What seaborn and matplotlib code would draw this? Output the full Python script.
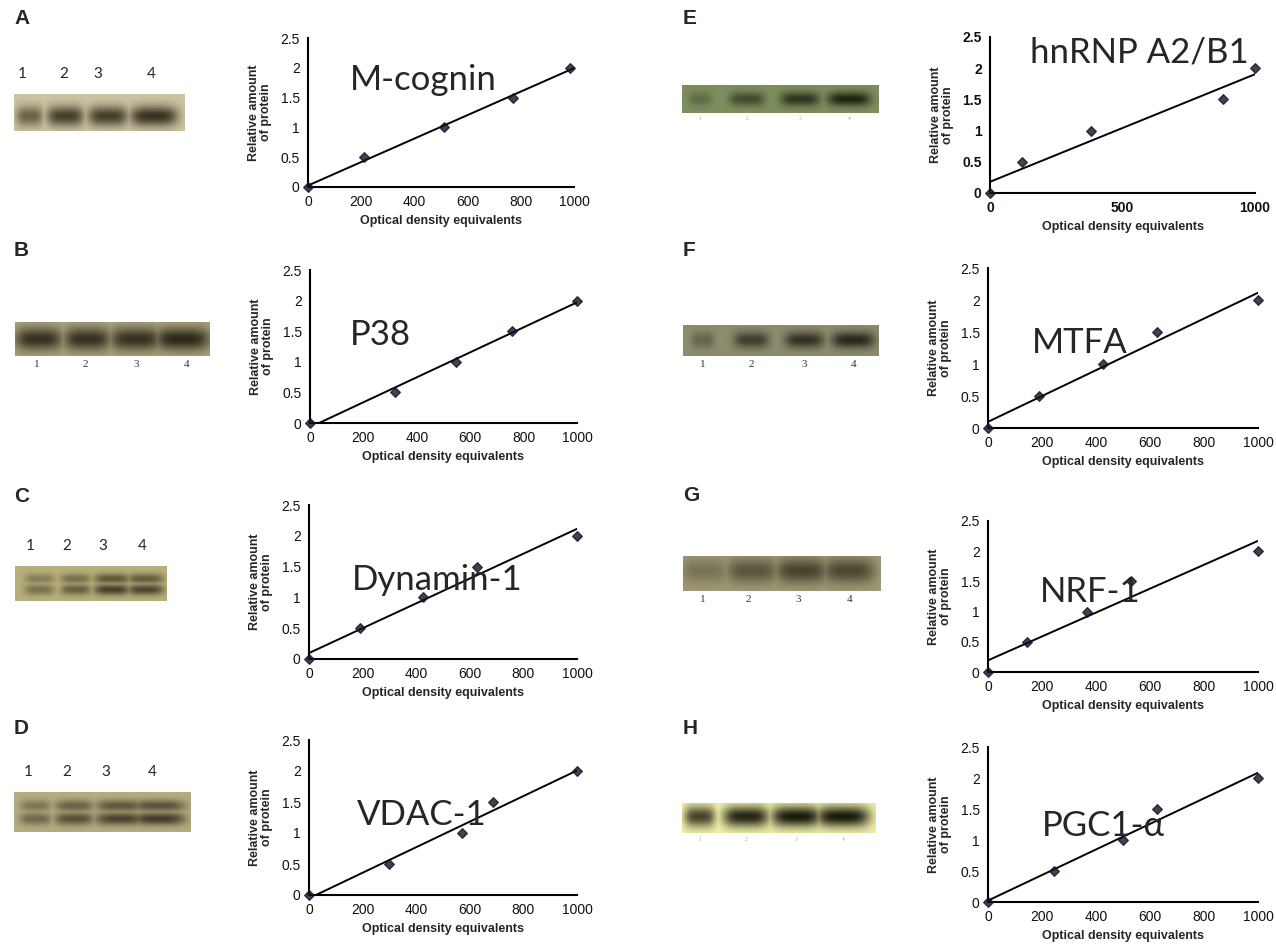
import numpy as np
import seaborn as sns
import matplotlib.pyplot as plt
from matplotlib.colors import to_rgb

# relative amount of protein (y) is the same standard series in every panel
rel_amount = [0, 0.5, 1, 1.5, 2]

proteins = ["M-cognin", "P38", "Dynamin-1", "VDAC-1",
            "hnRNP A2/B1", "MTFA", "NRF-1", "PGC1-α"]
letters = ["A", "B", "C", "D", "E", "F", "G", "H"]

# optical density equivalents
od_a = [0, 210, 510, 770, 985]
od_b = [0, 320, 545, 755, 1000]
od_c = [0, 190, 425, 625, 1000]
od_d = [0, 300, 570, 685, 1000]
od_e = [0, 120, 380, 880, 1000]
od_f = [0, 190, 425, 625, 1000]
od_g = [0, 145, 365, 530, 1000]
od_h = [0, 245, 500, 625, 1000]
od_all = [od_a, od_b, od_c, od_d, od_e, od_f, od_g, od_h]

xticks_default = [0, 200, 400, 600, 800, 1000]
xticks_e = [0, 500, 1000]
yticks = [0, 0.5, 1, 1.5, 2, 2.5]
lanes = ["1", "2", "3", "4"]

# band darkness per lane in each blot
band_a = [0.65, 0.88, 0.88, 0.97]
band_b = [0.92, 0.92, 0.92, 1.0]
band_c = [0.5, 0.65, 0.9, 0.85]
band_d = [0.55, 0.75, 0.85, 0.9]
band_e = [0.3, 0.6, 0.8, 0.95]
band_f = [0.35, 0.7, 0.8, 0.9]
band_g = [0.35, 0.62, 0.78, 0.74]
band_h = [0.8, 0.95, 1.0, 1.0]
bands_all = [band_a, band_b, band_c, band_d, band_e, band_f, band_g, band_h]

W, H = 1276, 946

# layout in pixels: plot box (left, top, right, bottom)
plot_box = [(308, 38, 574, 187), (310, 270, 577, 423),
            (309, 505, 577, 659), (309, 740, 577, 895),
            (990, 37, 1255, 193), (988, 268, 1258, 428),
            (988, 521, 1258, 672), (988, 747, 1258, 902)]
blot_box = [(14, 94, 185, 131), (15, 322, 210, 356),
            (15, 566, 167, 601), (14, 792, 191, 832),
            (682, 85, 879, 113), (683, 325, 879, 356),
            (683, 556, 881, 591), (682, 803, 876, 833)]
letter_pos = [(14, 18), (14, 250), (14, 497), (14, 728),
              (683, 18), (683, 250), (683, 495), (683, 728)]
name_pos = [(350, 80), (350, 335), (352, 580), (357, 815),
            (1030, 52), (1032, 343), (1040, 592), (1042, 826)]

blot_bg = ["#cdc5a3", "#aaa47e", "#b8af7c", "#b5ad82",
           "#7f8e5e", "#8d8c6e", "#a09a78", "#f4f2ac"]
blot_ink = ["#332d1c", "#2c2818", "#3a3420", "#36311f",
            "#18200f", "#1c1c12", "#2e2c1a", "#1a1a0c"]
lane_x = [[0.09, 0.3, 0.55, 0.82], [0.12, 0.37, 0.62, 0.86],
          [0.16, 0.4, 0.64, 0.86], [0.12, 0.34, 0.6, 0.82],
          [0.09, 0.33, 0.6, 0.85], [0.1, 0.35, 0.62, 0.87],
          [0.11, 0.35, 0.6, 0.84], [0.09, 0.33, 0.59, 0.83]]
lane_w = [[0.08, 0.11, 0.12, 0.14], [0.12, 0.12, 0.13, 0.14],
          [0.1, 0.1, 0.12, 0.12], [0.09, 0.11, 0.14, 0.15],
          [0.06, 0.09, 0.1, 0.11], [0.06, 0.09, 0.1, 0.11],
          [0.12, 0.13, 0.13, 0.13], [0.08, 0.12, 0.13, 0.14]]
band_thick = [0.28, 0.34, 0.2, 0.2, 0.26, 0.26, 0.36, 0.36]
band_mid = [0.6, 0.5, 0.5, 0.5, 0.5, 0.5, 0.42, 0.45]
doublet = [False, False, True, True, False, False, False, False]
num_x = [[0.05, 0.29, 0.49, 0.8], [0.11, 0.36, 0.62, 0.88],
         [0.1, 0.34, 0.58, 0.84], [0.08, 0.3, 0.52, 0.78],
         [0.09, 0.33, 0.6, 0.85], [0.1, 0.35, 0.62, 0.87],
         [0.1, 0.33, 0.58, 0.84], [0.09, 0.33, 0.59, 0.83]]
num_above = [True, False, True, True, False, False, False, False]

sns.set_style("white")
plt.rcParams['font.family'] = ['Liberation Sans', 'DejaVu Sans']
calibri = ['Lato', 'DejaVu Sans']

fig = plt.figure(figsize=(W / 100, H / 100), dpi=100)


def box(l, t, r, b):
    return [l / W, 1 - b / H, (r - l) / W, (b - t) / H]


def make_blot(bg, ink, xs, ws, dens, two, thick, mid, h=40, w=200):
    xx = np.linspace(0, 1, w)[None, :]
    yy = np.linspace(0, 1, h)[:, None]
    d = np.zeros((h, w))
    if two:
        rows = [(0.36, 0.15, 0.8), (0.68, 0.16, 1.0)]
    else:
        rows = [(mid, thick, 1.0)]
    for c, wd, a in zip(xs, ws, dens):
        for yc, hh, f in rows:
            d = np.maximum(d, a * f * np.exp(-((xx - c) / wd) ** 4)
                           * np.exp(-((yy - yc) / hh) ** 2))
    return np.array(to_rgb(bg)) * (1 - d[..., None]) + np.array(to_rgb(ink)) * d[..., None]


for i in range(8):
    # blot picture
    l, t, r, b = blot_box[i]
    bax = fig.add_axes(box(l, t, r, b))
    bax.imshow(make_blot(blot_bg[i], blot_ink[i], lane_x[i], lane_w[i],
                         bands_all[i], doublet[i], band_thick[i], band_mid[i]),
               aspect='auto')
    bax.axis('off')
    for lx, lab in zip(num_x[i], lanes):
        px = l + lx * (r - l)
        if num_above[i]:
            fig.text(px / W, 1 - (t - 20) / H, lab, ha='center', va='center',
                     fontsize=11, family=calibri)
        elif i in (4, 7):
            fig.text(px / W, 1 - (b + 6) / H, lab, ha='center', va='center',
                     fontsize=4, color='#aaaaaa', family='Liberation Serif')
        else:
            fig.text(px / W, 1 - (b + 8) / H, lab, ha='center', va='center',
                     fontsize=8, color='#333333', family='Liberation Serif')

    # panel letter
    fig.text(letter_pos[i][0] / W, 1 - letter_pos[i][1] / H, letters[i],
             fontsize=15, fontweight='bold', va='center', ha='left')

    # standard curve
    ax = fig.add_axes(box(*plot_box[i]))
    ax.set_xlim(0, 1000)
    ax.set_ylim(0, 2.5)
    sns.regplot(x=od_all[i], y=rel_amount, ax=ax, ci=None, truncate=False,
                marker='D', color='black',
                scatter_kws={'s': 24, 'color': '#0d1626', 'clip_on': False,
                             'zorder': 5},
                line_kws={'lw': 1.4, 'color': 'black'})
    ax.set_xlim(0, 1000)
    ax.set_ylim(0, 2.5)
    ax.set_xticks(xticks_e if i == 4 else xticks_default)
    ax.set_yticks(yticks)
    ax.set_yticklabels([f"{v:g}" for v in yticks])
    sns.despine(ax=ax)
    for s in ('left', 'bottom'):
        ax.spines[s].set_linewidth(1.5)
        ax.spines[s].set_color('black')
    ax.tick_params(length=0, pad=6, labelsize=10, labelcolor='#111111')
    if i == 4:
        for lab in ax.get_xticklabels() + ax.get_yticklabels():
            lab.set_fontweight('bold')
    ax.set_xlabel("Optical density equivalents", fontsize=9,
                  fontweight='bold', labelpad=4)
    ax.set_ylabel("Relative amount\nof protein", fontsize=9,
                  fontweight='bold', labelpad=6, linespacing=0.95)

    # protein name
    fig.text(name_pos[i][0] / W, 1 - name_pos[i][1] / H, proteins[i],
             fontsize=25, family=calibri, va='center', ha='left')

fig.savefig("out.png", dpi=100)
